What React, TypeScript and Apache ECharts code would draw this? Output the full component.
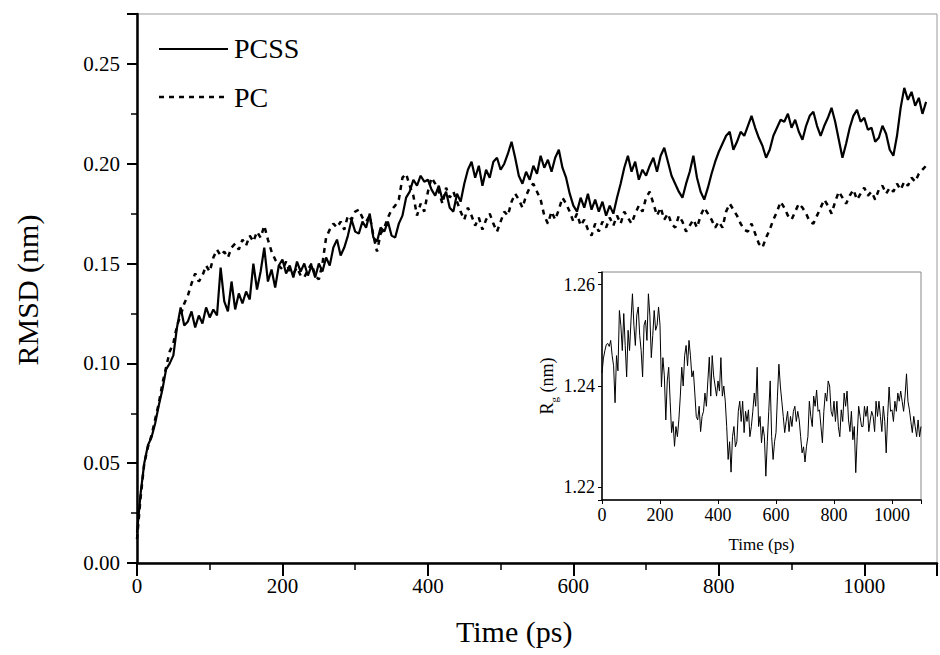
import React, { useEffect, useRef } from "react";
import * as echarts from "echarts";

// Sampling step (ps) of the traces
const stepPs = 5;

// Legend entries
const seriesNames = ["PCSS", "PC"];

// Main plot: RMSD (nm) of PCSS (solid) – t = 0, 5, 10, ... ps
const pcssRmsd = [
  0.015, 0.035, 0.05, 0.059, 0.063, 0.07, 0.079, 0.087, 0.097, 0.1,
  0.104, 0.118, 0.128, 0.119, 0.121, 0.126, 0.118, 0.124, 0.12, 0.128,
  0.123, 0.127, 0.124, 0.148, 0.131, 0.126, 0.141, 0.127, 0.135, 0.13,
  0.136, 0.132, 0.15, 0.137, 0.146, 0.158, 0.141, 0.147, 0.138, 0.149,
  0.152, 0.145, 0.149, 0.143, 0.151, 0.146, 0.15, 0.144, 0.149, 0.143,
  0.15, 0.146, 0.153, 0.149, 0.158, 0.162, 0.154, 0.158, 0.164, 0.172,
  0.166, 0.165, 0.171, 0.168, 0.175, 0.163, 0.161, 0.168, 0.166, 0.171,
  0.164, 0.163, 0.17, 0.174, 0.183, 0.186, 0.192, 0.189, 0.194, 0.191,
  0.192, 0.187, 0.184, 0.189, 0.182, 0.186, 0.178, 0.176, 0.185, 0.181,
  0.19, 0.197, 0.201, 0.193, 0.199, 0.189, 0.197, 0.193, 0.201, 0.203,
  0.197, 0.2, 0.205, 0.211, 0.203, 0.194, 0.19, 0.196, 0.192, 0.199,
  0.195, 0.204, 0.198, 0.202, 0.196, 0.203, 0.207, 0.198, 0.193, 0.185,
  0.179, 0.176, 0.183, 0.178, 0.185, 0.177, 0.182, 0.176, 0.181, 0.174,
  0.179, 0.175, 0.183, 0.19, 0.198, 0.204, 0.196, 0.201, 0.192, 0.197,
  0.194, 0.199, 0.203, 0.196, 0.204, 0.208, 0.201, 0.194, 0.19, 0.186,
  0.183, 0.19, 0.196, 0.204, 0.193, 0.186, 0.182, 0.188, 0.195, 0.201,
  0.206, 0.21, 0.214, 0.216, 0.207, 0.211, 0.216, 0.214, 0.219, 0.224,
  0.218, 0.213, 0.209, 0.203, 0.207, 0.214, 0.218, 0.222, 0.221, 0.225,
  0.218, 0.222, 0.216, 0.212, 0.219, 0.224, 0.226, 0.219, 0.214, 0.219,
  0.223, 0.228, 0.221, 0.212, 0.203, 0.21, 0.218, 0.224, 0.227, 0.221,
  0.223, 0.217, 0.218, 0.211, 0.213, 0.219, 0.215, 0.207, 0.204, 0.214,
  0.228, 0.238, 0.232, 0.236, 0.229, 0.233, 0.225, 0.231,
];

// Main plot: RMSD (nm) of PC (dashed) – t = 0, 5, 10, ... ps
const pcRmsd = [
  0.012, 0.033, 0.05, 0.058, 0.064, 0.072, 0.08, 0.09, 0.098, 0.106,
  0.11, 0.119, 0.124, 0.13, 0.134, 0.14, 0.145, 0.141, 0.144, 0.149,
  0.146, 0.153, 0.157, 0.154, 0.156, 0.153, 0.158, 0.16, 0.157, 0.162,
  0.159, 0.164, 0.161, 0.166, 0.163, 0.169, 0.162, 0.156, 0.152, 0.149,
  0.147, 0.151, 0.146, 0.145, 0.148, 0.144, 0.143, 0.147, 0.15, 0.144,
  0.142, 0.15, 0.163, 0.167, 0.17, 0.168, 0.171, 0.167, 0.174, 0.172,
  0.176, 0.177, 0.173, 0.171, 0.174, 0.164, 0.156, 0.165, 0.168, 0.173,
  0.177, 0.179, 0.182, 0.193, 0.195, 0.189, 0.184, 0.174, 0.18, 0.176,
  0.186, 0.193, 0.19, 0.186, 0.18, 0.188, 0.183, 0.186, 0.181, 0.176,
  0.172, 0.178, 0.174, 0.169, 0.173, 0.167, 0.172, 0.175, 0.17, 0.166,
  0.171, 0.176, 0.174, 0.181, 0.185, 0.182, 0.178, 0.184, 0.188, 0.19,
  0.186, 0.182, 0.174, 0.17, 0.176, 0.172, 0.177, 0.183, 0.18, 0.176,
  0.171, 0.175, 0.169, 0.172, 0.167, 0.164, 0.17, 0.166, 0.171, 0.168,
  0.173, 0.169, 0.174, 0.17, 0.176, 0.173, 0.17, 0.175, 0.179, 0.176,
  0.183, 0.186, 0.18, 0.174, 0.178, 0.172, 0.175, 0.17, 0.168, 0.174,
  0.171, 0.166, 0.169, 0.172, 0.168, 0.174, 0.178, 0.175, 0.172, 0.168,
  0.171, 0.168, 0.176, 0.18, 0.177, 0.174, 0.17, 0.167, 0.166, 0.17,
  0.165, 0.16, 0.158, 0.163, 0.167, 0.172, 0.176, 0.181, 0.178, 0.174,
  0.172, 0.176, 0.18, 0.178, 0.175, 0.171, 0.17, 0.174, 0.178, 0.182,
  0.179, 0.175, 0.181, 0.186, 0.183, 0.18, 0.184, 0.187, 0.182, 0.185,
  0.188, 0.184, 0.186, 0.182, 0.187, 0.189, 0.185, 0.188, 0.186, 0.19,
  0.187, 0.191, 0.189, 0.193, 0.191, 0.195, 0.197, 0.199,
];

// Inset: radius of gyration Rg (nm) – t = 0, 5, 10, ... 1100 ps
const rgValues = [
  1.2426, 1.2455, 1.247, 1.2482, 1.2484, 1.2478, 1.249, 1.246, 1.244, 1.2367, 1.246, 1.243, 1.2549, 1.252, 1.247, 1.2543, 1.248, 1.2418, 1.251, 1.247,
  1.253, 1.2582, 1.252, 1.248, 1.254, 1.2556, 1.25, 1.247, 1.2418, 1.252, 1.253, 1.249, 1.2582, 1.254, 1.2456, 1.25, 1.2549, 1.251, 1.252, 1.2556,
  1.252, 1.2398, 1.2456, 1.242, 1.2333, 1.241, 1.2437, 1.237, 1.2308, 1.233, 1.2281, 1.232, 1.23, 1.2333, 1.238, 1.2437, 1.24, 1.246, 1.248, 1.244,
  1.249, 1.246, 1.2418, 1.243, 1.2386, 1.234, 1.2333, 1.236, 1.231, 1.234, 1.235, 1.2386, 1.236, 1.241, 1.2457, 1.238, 1.246, 1.242, 1.24, 1.238,
  1.241, 1.239, 1.2456, 1.238, 1.24, 1.237, 1.232, 1.2255, 1.229, 1.223, 1.23, 1.232, 1.228, 1.229, 1.235, 1.237, 1.233, 1.237, 1.2308, 1.235,
  1.233, 1.2353, 1.23, 1.232, 1.235, 1.2386, 1.236, 1.2437, 1.232, 1.234, 1.2288, 1.232, 1.23, 1.2222, 1.229, 1.235, 1.241, 1.23, 1.2255, 1.229,
  1.2308, 1.238, 1.2443, 1.24, 1.237, 1.234, 1.2308, 1.233, 1.235, 1.231, 1.234, 1.232, 1.235, 1.236, 1.233, 1.235, 1.2333, 1.23, 1.2268, 1.228,
  1.225, 1.228, 1.23, 1.237, 1.234, 1.232, 1.238, 1.236, 1.2392, 1.235, 1.2353, 1.232, 1.2288, 1.235, 1.2386, 1.237, 1.241, 1.24, 1.235, 1.234,
  1.237, 1.233, 1.237, 1.232, 1.23, 1.2353, 1.233, 1.2386, 1.236, 1.239, 1.2333, 1.231, 1.235, 1.2294, 1.232, 1.2229, 1.23, 1.236, 1.234, 1.232,
  1.232, 1.236, 1.234, 1.236, 1.231, 1.2333, 1.235, 1.234, 1.231, 1.237, 1.234, 1.237, 1.234, 1.231, 1.236, 1.233, 1.2268, 1.234, 1.2398, 1.235,
  1.2353, 1.233, 1.237, 1.235, 1.2386, 1.237, 1.239, 1.237, 1.235, 1.238, 1.2424, 1.237, 1.2353, 1.233, 1.2308, 1.234, 1.232, 1.23, 1.2333, 1.23,
  1.232,
];

const mainYLabelStep = 0.05;
const insetYLabelStep = 0.02;

const FONT = "'Liberation Serif', 'DejaVu Serif', 'Times New Roman', serif";

const toPairs = (arr: number[]) => arr.map((v, i) => [i * stepPs, v]);

const onStep = (v: number, s: number) => Math.abs(v / s - Math.round(v / s)) < 1e-6;

export default function App() {
  const ref = useRef<HTMLDivElement>(null);

  useEffect(() => {
    if (!ref.current) return;
    const chart = echarts.init(ref.current, null, { renderer: "svg" });
    const option: any = {
      animation: false,
      backgroundColor: "#fff",
      grid: [
        {
          left: 137,
          top: 14,
          right: -10,
          bottom: 92,
          show: true,
          borderColor: "#999",
          borderWidth: 1,
          backgroundColor: "transparent",
        },
        {
          left: 602,
          top: 272,
          width: 319,
          height: 228,
          show: true,
          borderColor: "#888",
          borderWidth: 1,
          backgroundColor: "#fff",
        },
      ],
      xAxis: [
        {
          type: "value",
          gridIndex: 0,
          min: 0,
          max: 1100,
          interval: 200,
          axisLine: { lineStyle: { color: "#000", width: 2.5 } },
          axisTick: { length: 13, lineStyle: { color: "#000", width: 2 } },
          minorTick: { show: true, splitNumber: 2, length: 7, lineStyle: { color: "#000", width: 1.5 } },
          splitLine: { show: false },
          axisLabel: {
            color: "#000",
            fontSize: 21,
            fontFamily: FONT,
            margin: 12,
            formatter: (v: number) => (v <= 1000 ? String(v) : ""),
          },
        },
        {
          type: "value",
          gridIndex: 1,
          min: 0,
          max: 1100,
          interval: 200,
          axisLine: { lineStyle: { color: "#000", width: 1.5 } },
          axisTick: { length: 4, lineStyle: { color: "#000", width: 1 } },
          splitLine: { show: false },
          axisLabel: {
            color: "#000",
            fontSize: 18,
            fontFamily: FONT,
            margin: 6,
            formatter: (v: number) => (v <= 1000 ? String(v) : ""),
          },
          name: "Time (ps)",
          nameLocation: "middle",
          nameGap: 36,
          nameTextStyle: { color: "#000", fontSize: 17, fontFamily: FONT },
        },
      ],
      yAxis: [
        {
          type: "value",
          gridIndex: 0,
          min: 0,
          max: 0.275,
          interval: mainYLabelStep,
          axisLine: { show: true, lineStyle: { color: "#000", width: 2.5 } },
          axisTick: { show: true, length: 10, lineStyle: { color: "#000", width: 2 } },
          minorTick: { show: true, splitNumber: 2, length: 6, lineStyle: { color: "#000", width: 1.5 } },
          splitLine: { show: false },
          axisLabel: {
            color: "#000",
            fontSize: 21,
            fontFamily: FONT,
            margin: 17,
            formatter: (v: number) => (onStep(v, mainYLabelStep) ? v.toFixed(2) : ""),
          },
        },
        {
          type: "value",
          gridIndex: 1,
          min: 1.2175,
          max: 1.2625,
          splitNumber: 2,
          axisLine: { show: true, lineStyle: { color: "#000", width: 1.5 } },
          axisTick: { show: true, length: 4, lineStyle: { color: "#000", width: 1 } },
          splitLine: { show: false },
          axisLabel: {
            color: "#000",
            fontSize: 18,
            fontFamily: FONT,
            margin: 7,
            formatter: (v: number) => (onStep(v, insetYLabelStep) ? v.toFixed(2) : ""),
          },
          name: "{r|R}{s|g}{r| (nm)}",
          nameLocation: "middle",
          nameGap: 40,
          nameRotate: 90,
          nameTextStyle: {
            color: "#000",
            fontFamily: FONT,
            rich: {
              r: { fontSize: 18, fontFamily: FONT, color: "#000", lineHeight: 22, verticalAlign: "bottom" },
              s: { fontSize: 11, fontFamily: FONT, color: "#000", lineHeight: 22, verticalAlign: "bottom", padding: [0, 0, -4, 0] },
            },
          },
        },
      ],
      graphic: [
        {
          type: "line",
          shape: { x1: 159, y1: 49, x2: 228, y2: 49 },
          style: { stroke: "#000", lineWidth: 2.2 },
        },
        {
          type: "text",
          x: 234,
          y: 48,
          style: { text: seriesNames[0], fontSize: 28, fontFamily: FONT, fill: "#000", verticalAlign: "middle" },
        },
        {
          type: "line",
          shape: { x1: 159, y1: 97, x2: 228, y2: 97 },
          style: { stroke: "#000", lineWidth: 2.5, lineDash: [5, 5] },
        },
        {
          type: "text",
          x: 234,
          y: 97,
          style: { text: seriesNames[1], fontSize: 28, fontFamily: FONT, fill: "#000", verticalAlign: "middle" },
        },
        {
          type: "text",
          left: 518 - 62,
          top: 633 - 17,
          style: { text: "Time (ps)", fontSize: 30, fontFamily: FONT, fill: "#000" },
        },
        {
          type: "text",
          x: 27,
          y: 290,
          rotation: Math.PI / 2,
          style: {
            text: "RMSD (nm)",
            fontSize: 30,
            fontFamily: FONT,
            fill: "#000",
            align: "center",
            verticalAlign: "middle",
          },
        },
      ],
      series: [
        {
          type: "line",
          name: seriesNames[0],
          xAxisIndex: 0,
          yAxisIndex: 0,
          data: toPairs(pcssRmsd),
          symbol: "none",
          showSymbol: false,
          lineStyle: { color: "#000", width: 2.2 },
          itemStyle: { color: "#000" },
          z: 3,
        },
        {
          type: "line",
          name: seriesNames[1],
          xAxisIndex: 0,
          yAxisIndex: 0,
          data: toPairs(pcRmsd),
          symbol: "none",
          showSymbol: false,
          lineStyle: { color: "#000", width: 2.5, type: [5, 5] },
          itemStyle: { color: "#000" },
          z: 2,
        },
        {
          type: "line",
          name: "Rg",
          xAxisIndex: 1,
          yAxisIndex: 1,
          data: toPairs(rgValues),
          symbol: "none",
          showSymbol: false,
          lineStyle: { color: "#000", width: 1 },
          itemStyle: { color: "#000" },
          z: 4,
        },
      ],
    };
    chart.setOption(option);
    return () => chart.dispose();
  }, []);

  return (
    <div
      ref={ref}
      style={{ position: "fixed", left: 0, top: 0, width: 940, height: 655, background: "#fff" }}
    />
  );
}
